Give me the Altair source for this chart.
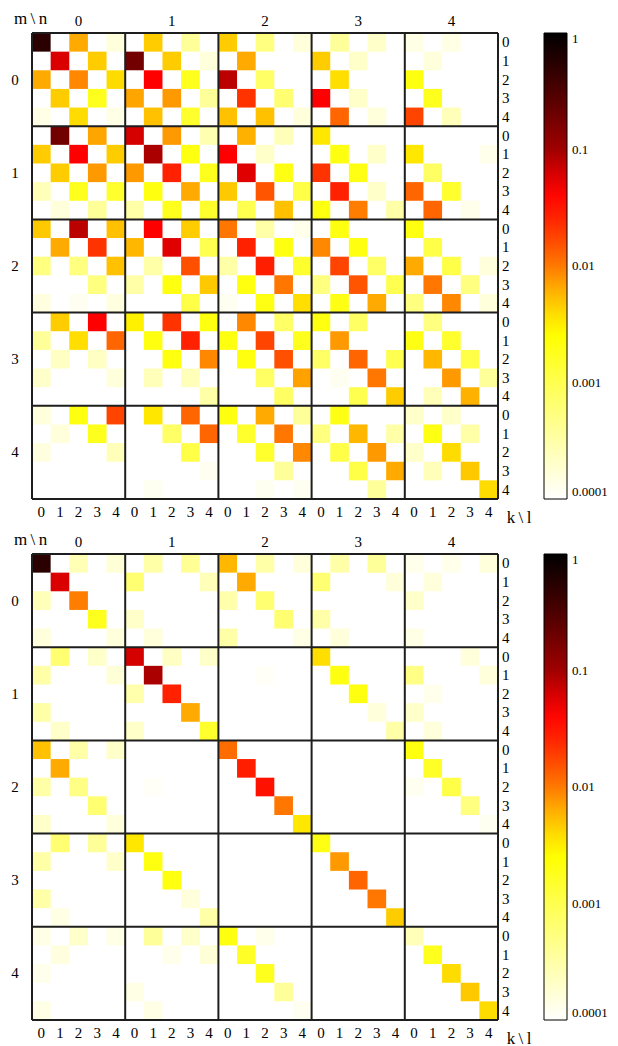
import altair as alt
import pandas as pd

FONT = "Liberation Serif"

# ---------------- values (0 = blank cell) ----------------
# top panel, rows k=0..4 of each block row m; columns n*5+l
TOP_M0 = [
    [0.53, 0, 6.5e-3, 0, 1.6e-4, 0, 4.8e-3, 0, 3.8e-4, 0, 4.8e-3, 0, 5.3e-4, 0, 1.6e-4, 0, 3.8e-4, 0, 2e-4, 0, 1.4e-4, 0, 1.4e-4, 0, 0],
    [0, 6e-2, 0, 4.8e-3, 0, 0.19, 0, 4.8e-3, 0, 1.6e-4, 0, 6.5e-3, 0, 0, 0, 4.8e-3, 0, 2e-4, 0, 0, 0, 1.6e-4, 0, 0, 0],
    [6.5e-3, 0, 8.8e-3, 0, 3.9e-3, 0, 4.4e-2, 0, 1.8e-3, 0, 7.9e-2, 0, 7.5e-4, 0, 0, 0, 3.8e-3, 0, 0, 0, 2.1e-3, 0, 0, 0, 0],
    [0, 4.8e-3, 0, 1.8e-3, 0, 6.8e-3, 0, 7.6e-3, 0, 3.8e-4, 0, 2.1e-2, 0, 6.5e-4, 0, 4.4e-2, 0, 2e-4, 0, 0, 0, 1.8e-3, 0, 0, 0],
    [1.4e-4, 0, 3.9e-3, 0, 1.4e-4, 0, 5.3e-3, 0, 1.5e-3, 0, 5.3e-3, 0, 5.3e-3, 0, 1.6e-4, 0, 1.24e-2, 0, 1.6e-4, 0, 1.75e-2, 0, 2.5e-4, 0, 0],
]
TOP_M1 = [
    [0, 0.19, 0, 6.8e-3, 0, 6.3e-2, 0, 7.6e-3, 0, 2.8e-4, 0, 6.1e-3, 0, 2.5e-4, 0, 3.4e-3, 0, 0, 0, 0, 0, 0, 0, 0, 0],
    [4.8e-3, 0, 4.4e-2, 0, 4.8e-3, 0, 9.1e-2, 0, 2.1e-3, 0, 4.4e-2, 0, 2e-4, 0, 0, 0, 2.1e-3, 0, 2e-4, 0, 3.4e-3, 0, 0, 0, 1.3e-4],
    [0, 4.8e-3, 0, 7.6e-3, 0, 7.6e-3, 0, 2.7e-2, 0, 1.8e-3, 0, 5.7e-2, 0, 2e-3, 0, 2.1e-2, 0, 2e-3, 0, 0, 0, 7.8e-4, 0, 0, 0],
    [2.5e-4, 0, 1.8e-3, 0, 1.5e-3, 0, 2.1e-3, 0, 6.5e-3, 0, 4.9e-3, 0, 1.47e-2, 0, 1.1e-3, 0, 2.7e-2, 0, 2e-4, 0, 1.24e-2, 0, 1.5e-3, 0, 0],
    [0, 1.6e-4, 0, 3.8e-4, 0, 3.2e-4, 0, 1.8e-3, 0, 1.5e-3, 0, 1e-3, 0, 5.3e-3, 0, 2.1e-3, 0, 9.7e-3, 0, 3.2e-4, 0, 1.24e-2, 0, 1.3e-4, 0],
]
TOP_M2 = [
    [4.9e-3, 0, 7.9e-2, 0, 5.3e-3, 0, 4.4e-2, 0, 4.8e-3, 0, 1.03e-2, 0, 3.2e-4, 0, 1.3e-4, 0, 2.1e-3, 0, 0, 0, 2.1e-3, 0, 0, 0, 0],
    [0, 6.5e-3, 0, 2.1e-2, 0, 5.8e-3, 0, 5.7e-2, 0, 1e-3, 0, 2.7e-2, 0, 2.1e-3, 0, 8.8e-3, 0, 2.1e-3, 0, 0, 0, 1.1e-3, 0, 0, 0],
    [5.3e-4, 0, 5.3e-4, 0, 5.3e-3, 0, 3.2e-4, 0, 1.55e-2, 0, 3.2e-4, 0, 2.8e-2, 0, 1.5e-3, 0, 1.75e-2, 0, 7.5e-4, 0, 6.5e-3, 0, 1.1e-3, 0, 1.6e-4],
    [0, 0, 0, 5.3e-4, 0, 3.2e-4, 0, 2.1e-3, 0, 4.9e-3, 0, 2.1e-3, 0, 1.03e-2, 0, 5.3e-4, 0, 1.47e-2, 0, 1e-3, 0, 1.03e-2, 0, 5.3e-4, 0],
    [1.5e-4, 0, 1.2e-4, 0, 1.5e-4, 0, 0, 0, 1.1e-3, 0, 1.2e-4, 0, 2e-3, 0, 3.8e-3, 0, 2e-3, 0, 6.5e-3, 0, 5.3e-4, 0, 8.8e-3, 0, 1.6e-4],
]
TOP_M3 = [
    [0, 4.8e-3, 0, 4.4e-2, 0, 3e-3, 0, 2.1e-2, 0, 2.1e-3, 0, 8.8e-3, 0, 7.5e-4, 0, 2.1e-3, 0, 7.8e-4, 0, 0, 0, 5.3e-4, 0, 0, 0],
    [3.8e-4, 0, 3.8e-3, 0, 1.24e-2, 0, 2.1e-3, 0, 2.7e-2, 0, 2.1e-3, 0, 1.75e-2, 0, 1.8e-3, 0, 7.6e-3, 0, 0, 0, 2e-3, 0, 1.5e-3, 0, 0],
    [0, 2.2e-4, 0, 2.2e-4, 0, 0, 0, 2.1e-3, 0, 8.8e-3, 0, 2.1e-3, 0, 1.55e-2, 0, 7.5e-4, 0, 1.24e-2, 0, 1e-3, 0, 5.8e-3, 0, 1.1e-3, 0],
    [2e-4, 0, 0, 0, 1.6e-4, 0, 2.5e-4, 0, 2.5e-4, 0, 0, 0, 7.8e-4, 0, 7e-3, 0, 1.2e-4, 0, 1.03e-2, 0, 0, 0, 7.6e-3, 0, 3.8e-4],
    [0, 0, 0, 0, 0, 0, 0, 0, 0, 3.2e-4, 0, 0, 0, 7.8e-4, 0, 0, 0, 1e-3, 0, 4.8e-3, 0, 2.5e-4, 0, 6.1e-3, 0],
]
TOP_M4 = [
    [1.6e-4, 0, 2.1e-3, 0, 1.75e-2, 0, 3.4e-3, 0, 1.24e-2, 0, 2.1e-3, 0, 6.5e-3, 0, 3.8e-4, 0, 2e-3, 0, 0, 0, 2e-4, 0, 2e-4, 0, 0],
    [0, 1.6e-4, 0, 1.8e-3, 0, 0, 0, 7.5e-4, 0, 1.24e-2, 0, 1.5e-3, 0, 1.03e-2, 0, 5.3e-4, 0, 5.8e-3, 0, 3.2e-4, 0, 2e-3, 0, 3.2e-4, 0],
    [1.5e-4, 0, 0, 0, 2.5e-4, 0, 0, 0, 1.1e-3, 0, 0, 0, 1.5e-3, 0, 8.8e-3, 0, 1.1e-3, 0, 7.6e-3, 0, 2e-4, 0, 3.9e-3, 0, 0],
    [0, 0, 0, 0, 0, 0, 0, 0, 0, 1.2e-4, 0, 0, 0, 3.8e-4, 0, 0, 0, 1.1e-3, 0, 6.5e-3, 0, 2.5e-4, 0, 4.9e-3, 0],
    [0, 0, 0, 0, 0, 0, 1.2e-4, 0, 0, 0, 0, 0, 1.2e-4, 0, 1.2e-4, 0, 0, 0, 3.8e-4, 0, 0, 0, 0, 0, 3.9e-3],
]

# bottom panel
BOT_M0 = [
    [0.53, 0, 2.6e-4, 0, 1.7e-4, 0, 3.2e-4, 0, 4e-4, 0, 5.8e-3, 0, 3.2e-4, 0, 1.6e-4, 0, 3.2e-4, 0, 3.8e-4, 0, 1.3e-4, 0, 1.3e-4, 0, 1.6e-4],
    [0, 6e-2, 0, 0, 0, 6.5e-4, 0, 0, 0, 2.5e-4, 0, 6.5e-3, 0, 0, 0, 6.5e-4, 0, 0, 0, 1.6e-4, 0, 1.6e-4, 0, 0, 0],
    [2.5e-4, 0, 9.7e-3, 0, 0, 0, 0, 0, 0, 0, 3e-4, 0, 6.5e-4, 0, 0, 0, 0, 0, 0, 0, 2e-4, 0, 0, 0, 0],
    [0, 0, 0, 1.8e-3, 0, 2e-4, 0, 0, 0, 0, 0, 0, 0, 6.5e-4, 0, 3.2e-4, 0, 0, 0, 0, 0, 0, 0, 0, 0],
    [1.6e-4, 0, 0, 0, 1.6e-4, 0, 1.6e-4, 0, 0, 0, 3.2e-4, 0, 0, 0, 1.4e-4, 0, 1.6e-4, 0, 0, 0, 1.4e-4, 0, 0, 0, 0],
]
BOT_M1 = [
    [0, 6.5e-4, 0, 2e-4, 0, 6.3e-2, 0, 2.2e-4, 0, 2e-4, 0, 0, 0, 0, 0, 3.8e-3, 0, 0, 0, 0, 0, 0, 0, 1.6e-4, 0],
    [3.2e-4, 0, 0, 0, 1.7e-4, 0, 9.1e-2, 0, 0, 0, 0, 0, 1.1e-4, 0, 0, 0, 2.1e-3, 0, 0, 0, 5e-4, 0, 0, 0, 1.6e-4],
    [0, 0, 0, 0, 0, 3e-4, 0, 2.7e-2, 0, 0, 0, 0, 0, 0, 0, 0, 0, 2.1e-3, 0, 0, 0, 1.3e-4, 0, 0, 0],
    [3.2e-4, 0, 0, 0, 0, 0, 0, 0, 6.5e-3, 0, 0, 0, 0, 0, 0, 0, 0, 0, 1.6e-4, 0, 2e-4, 0, 0, 0, 0],
    [0, 2e-4, 0, 0, 0, 2e-4, 0, 0, 0, 1.5e-3, 0, 0, 0, 0, 0, 0, 0, 0, 0, 3.2e-4, 0, 1.6e-4, 0, 0, 0],
]
BOT_M2 = [
    [5.3e-3, 0, 3.2e-4, 0, 2e-4, 0, 0, 0, 0, 0, 1.15e-2, 0, 0, 0, 0, 0, 0, 0, 0, 0, 2.1e-3, 0, 0, 0, 0],
    [0, 6.5e-3, 0, 0, 0, 0, 0, 0, 0, 0, 0, 2.8e-2, 0, 0, 0, 0, 0, 0, 0, 0, 0, 1.6e-3, 0, 0, 0],
    [3.2e-4, 0, 5e-4, 0, 0, 0, 1.1e-4, 0, 0, 0, 0, 0, 3.4e-2, 0, 0, 0, 0, 0, 0, 0, 1.2e-4, 0, 1.1e-3, 0, 0],
    [0, 0, 0, 6.5e-4, 0, 0, 0, 0, 0, 0, 0, 0, 0, 1.03e-2, 0, 0, 0, 0, 0, 0, 0, 0, 0, 5.3e-4, 0],
    [2e-4, 0, 0, 0, 1.6e-4, 0, 0, 0, 0, 0, 0, 0, 0, 0, 3.4e-3, 0, 0, 0, 0, 0, 0, 0, 0, 0, 1.2e-4],
]
BOT_M3 = [
    [0, 6.5e-4, 0, 3.8e-4, 0, 3.4e-3, 0, 0, 0, 0, 0, 0, 0, 0, 0, 2e-3, 0, 0, 0, 0, 0, 0, 0, 0, 0],
    [3.2e-4, 0, 0, 0, 2e-4, 0, 2.1e-3, 0, 0, 0, 0, 0, 0, 0, 0, 0, 7.6e-3, 0, 0, 0, 0, 0, 0, 0, 0],
    [0, 0, 0, 0, 0, 0, 0, 2.1e-3, 0, 0, 0, 0, 0, 0, 0, 0, 0, 1.24e-2, 0, 0, 0, 0, 0, 0, 0],
    [3.2e-4, 0, 0, 0, 0, 0, 0, 0, 1.6e-4, 0, 0, 0, 0, 0, 0, 0, 0, 0, 1.03e-2, 0, 0, 0, 0, 0, 0],
    [0, 1.4e-4, 0, 0, 0, 0, 0, 0, 0, 3.2e-4, 0, 0, 0, 0, 0, 0, 0, 0, 0, 4.8e-3, 0, 0, 0, 0, 0],
]
BOT_M4 = [
    [1.4e-4, 0, 2e-4, 0, 1.4e-4, 0, 3.8e-4, 0, 2e-4, 0, 2.1e-3, 0, 1.3e-4, 0, 0, 0, 0, 0, 0, 0, 2.5e-4, 0, 0, 0, 0],
    [0, 1.5e-4, 0, 0, 0, 0, 0, 1.3e-4, 0, 1.7e-4, 0, 1.6e-3, 0, 0, 0, 0, 0, 0, 0, 0, 0, 1.8e-3, 0, 0, 0],
    [1.3e-4, 0, 0, 0, 0, 0, 0, 0, 0, 0, 0, 0, 1.8e-3, 0, 0, 0, 0, 0, 0, 0, 0, 0, 3.9e-3, 0, 0],
    [0, 0, 0, 0, 0, 1.4e-4, 0, 0, 0, 0, 0, 0, 0, 3.8e-4, 0, 0, 0, 0, 0, 0, 0, 0, 0, 4.9e-3, 0],
    [1.4e-4, 0, 0, 0, 0, 0, 1.4e-4, 0, 0, 0, 0, 0, 0, 0, 1.2e-4, 0, 0, 0, 0, 0, 0, 0, 0, 0, 3.9e-3],
]

BLOCK_LABELS = ["0", "1", "2", "3", "4"]       # m (left) and n (top)
INNER_LABELS = ["0", "1", "2", "3", "4"]       # k (right) and l (bottom)
CBAR_DECADES = [-4, -3, -2, -1, 0]             # colour-bar ticks: 1e-4 ... 1

# colour map, as decades of the value -> colour
CMAP_DECADES = [-4, -3, -2.6, -2.32, -2, -1.68, -1.36, -1, -0.52, 0]
CMAP_COLORS = ["#ffffff", "#ffff50", "#ffff00", "#ffcc00", "#ff7a00", "#ff3300",
               "#ff0000", "#a00000", "#500000", "#000000"]

NB = 5
N = NB * len(INNER_LABELS)
SIZE = 466


def cell_frame(blocks):
    recs = []
    for m, block in enumerate(blocks):
        for k, row in enumerate(block):
            for c, v in enumerate(row):
                if v > 0:
                    r = m * NB + k
                    recs.append({"r": r, "r2": r + 1, "c": c, "c2": c + 1, "v": v})
    return pd.DataFrame(recs)


xs = alt.Scale(domain=[0, N], nice=False, zero=False)
ys = alt.Scale(domain=[0, N], nice=False, zero=False, reverse=True)
X = lambda f: alt.X(f, type="quantitative", scale=xs, axis=None)
Y = lambda f: alt.Y(f, type="quantitative", scale=ys, axis=None)


def panel(blocks):
    cells = cell_frame(blocks)
    color = alt.Color(
        "lv:Q",
        scale=alt.Scale(domain=CMAP_DECADES, range=CMAP_COLORS,
                        clamp=True, interpolate="rgb"),
        legend=alt.Legend(
            orient="none", legendX=512, legendY=0, direction="vertical",
            title=None, values=CBAR_DECADES,
            labelExpr="format(pow(10, datum.value), '~g')",
            gradientLength=SIZE, gradientThickness=23,
            gradientStrokeColor="black", gradientStrokeWidth=1,
            labelFont=FONT, labelFontSize=13, labelColor="black",
            labelOffset=5, labelBaseline="middle", labelOverlap=False,
        ),
    )
    rects = alt.Chart(cells).transform_calculate(
        lv="log(datum.v) / LN10"
    ).mark_rect().encode(x=X("c"), x2="c2", y=Y("r"), y2="r2", color=color)

    bounds = pd.DataFrame({"p": [i * NB for i in range(len(BLOCK_LABELS) + 1)],
                           "a": 0, "b": N})
    vlines = alt.Chart(bounds).mark_rule(color="#1e1e1e", strokeWidth=2).encode(
        x=X("p"), y=Y("a"), y2="b")
    hlines = alt.Chart(bounds).mark_rule(color="#1e1e1e", strokeWidth=2).encode(
        y=Y("p"), x=X("a"), x2="b")

    blk = pd.DataFrame({"pos": [i * NB + NB / 2 for i in range(len(BLOCK_LABELS))],
                        "t": BLOCK_LABELS, "lo": 0, "hi": N})
    inner = pd.DataFrame({"pos": [i + 0.5 for i in range(N)],
                          "t": [INNER_LABELS[i % NB] for i in range(N)], "lo": 0, "hi": N})
    corner = pd.DataFrame({"t": ["m\u2009\\\u2009n", "k\u2009\\\u2009l"], "lo": 0, "hi": N})
    txt = dict(font=FONT, fontSize=15, color="black", baseline="middle")
    big = dict(txt, fontSize=17)

    n_lab = alt.Chart(blk).mark_text(dy=-12, **txt).encode(x=X("pos"), y=Y("lo"), text="t:N")
    m_lab = alt.Chart(blk).mark_text(dx=-17, **txt).encode(y=Y("pos"), x=X("lo"), text="t:N")
    k_lab = alt.Chart(inner).mark_text(dx=4, align="left", **txt).encode(
        y=Y("pos"), x=X("hi"), text="t:N")
    l_lab = alt.Chart(inner).mark_text(dy=13, **txt).encode(x=X("pos"), y=Y("hi"), text="t:N")
    mn = alt.Chart(corner.iloc[[0]]).mark_text(dx=-1.5, dy=-14, **big).encode(
        x=X("lo"), y=Y("lo"), text="t:N")
    kl = alt.Chart(corner.iloc[[1]]).mark_text(dx=21, dy=18.5, **big).encode(
        x=X("hi"), y=Y("hi"), text="t:N")

    return alt.layer(rects, vlines, hlines, n_lab, m_lab, k_lab, l_lab, mn, kl).properties(
        width=SIZE, height=SIZE)


top = panel([TOP_M0, TOP_M1, TOP_M2, TOP_M3, TOP_M4])
bottom = panel([BOT_M0, BOT_M1, BOT_M2, BOT_M3, BOT_M4])

chart = alt.vconcat(top, bottom, spacing=5).resolve_scale(
    color="independent"
).properties(
    padding={"left": 3, "top": 2, "right": 2, "bottom": 0}
).configure_view(stroke=None)

chart.save("out.html", embed_options={"renderer": "svg", "actions": False})
